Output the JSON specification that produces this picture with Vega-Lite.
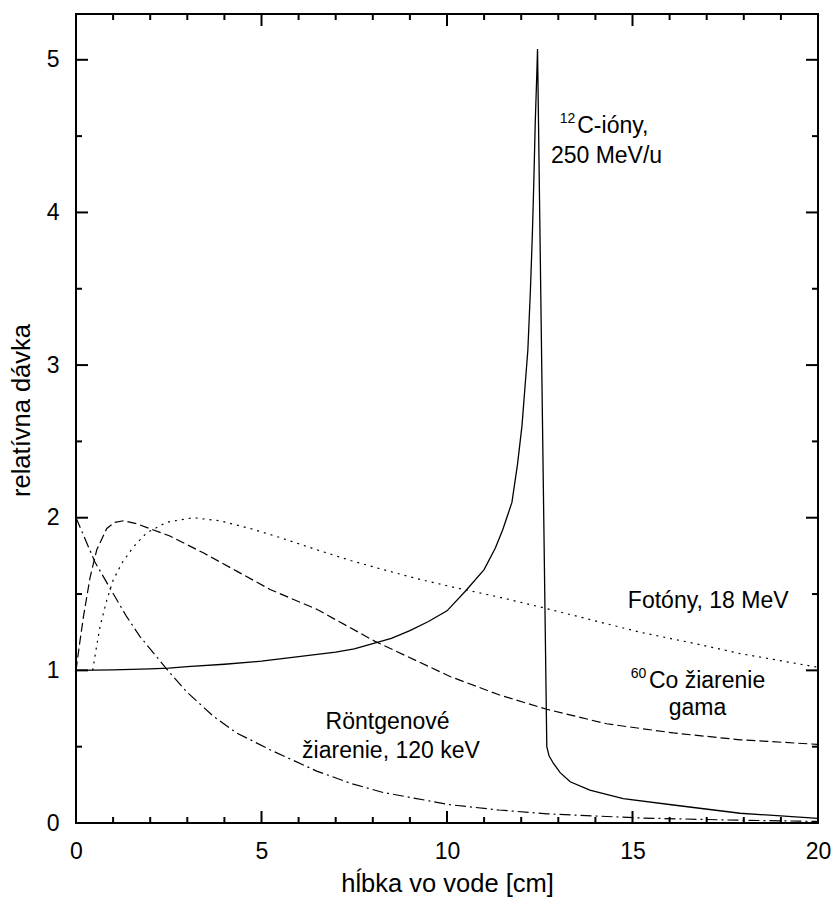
{
  "$schema": "https://vega.github.io/schema/vega-lite/v6.json",
  "width": 742,
  "height": 809,
  "autosize": {"type": "none"},
  "padding": {"left": 76, "top": 14, "right": 15, "bottom": 81},
  "background": "white",
  "config": {
    "view": {"stroke": "black", "strokeWidth": 2},
    "font": "Liberation Sans",
    "axis": {"grid": false, "domain": false, "labelFlush": false, "labelColor": "black", "labelFont": "Liberation Sans", "labelFontSize": 23, "titleFont": "Liberation Sans", "titleFontSize": 25.5, "titleFontWeight": "normal", "titleColor": "black"}
  },
  "datasets": {
    "curves": [
      {"s": "C", "x": 0, "y": 1.0}, {"s": "C", "x": 1, "y": 1.003}, {"s": "C", "x": 2, "y": 1.01}, {"s": "C", "x": 2.5, "y": 1.015}, {"s": "C", "x": 3, "y": 1.025}, {"s": "C", "x": 4, "y": 1.04}, {"s": "C", "x": 5, "y": 1.06}, {"s": "C", "x": 6, "y": 1.09}, {"s": "C", "x": 7, "y": 1.12}, {"s": "C", "x": 7.5, "y": 1.14}, {"s": "C", "x": 8, "y": 1.175}, {"s": "C", "x": 8.5, "y": 1.21}, {"s": "C", "x": 9, "y": 1.26}, {"s": "C", "x": 9.5, "y": 1.32}, {"s": "C", "x": 10, "y": 1.39}, {"s": "C", "x": 10.5, "y": 1.52}, {"s": "C", "x": 11, "y": 1.66}, {"s": "C", "x": 11.3, "y": 1.8}, {"s": "C", "x": 11.5, "y": 1.92}, {"s": "C", "x": 11.75, "y": 2.1}, {"s": "C", "x": 11.9, "y": 2.35}, {"s": "C", "x": 12.02, "y": 2.6}, {"s": "C", "x": 12.1, "y": 2.85}, {"s": "C", "x": 12.18, "y": 3.1}, {"s": "C", "x": 12.25, "y": 3.5}, {"s": "C", "x": 12.3, "y": 3.85}, {"s": "C", "x": 12.34, "y": 4.2}, {"s": "C", "x": 12.38, "y": 4.6}, {"s": "C", "x": 12.42, "y": 4.9}, {"s": "C", "x": 12.44, "y": 5.07}, {"s": "C", "x": 12.69, "y": 0.5}, {"s": "C", "x": 12.75, "y": 0.44}, {"s": "C", "x": 12.87, "y": 0.39}, {"s": "C", "x": 13.05, "y": 0.33}, {"s": "C", "x": 13.32, "y": 0.27}, {"s": "C", "x": 13.85, "y": 0.215}, {"s": "C", "x": 14.75, "y": 0.16}, {"s": "C", "x": 16.1, "y": 0.118}, {"s": "C", "x": 17.9, "y": 0.064}, {"s": "C", "x": 20, "y": 0.03},
      {"s": "P", "x": 0.45, "y": 1.0}, {"s": "P", "x": 0.55, "y": 1.15}, {"s": "P", "x": 0.65, "y": 1.29}, {"s": "P", "x": 0.83, "y": 1.46}, {"s": "P", "x": 1.0, "y": 1.59}, {"s": "P", "x": 1.23, "y": 1.7}, {"s": "P", "x": 1.55, "y": 1.81}, {"s": "P", "x": 1.9, "y": 1.9}, {"s": "P", "x": 2.44, "y": 1.97}, {"s": "P", "x": 3.16, "y": 2.0}, {"s": "P", "x": 3.88, "y": 1.98}, {"s": "P", "x": 4.69, "y": 1.93}, {"s": "P", "x": 5.5, "y": 1.87}, {"s": "P", "x": 6.49, "y": 1.79}, {"s": "P", "x": 7.4, "y": 1.72}, {"s": "P", "x": 8.28, "y": 1.66}, {"s": "P", "x": 9.2, "y": 1.6}, {"s": "P", "x": 10.08, "y": 1.55}, {"s": "P", "x": 11.4, "y": 1.48}, {"s": "P", "x": 12.6, "y": 1.41}, {"s": "P", "x": 13.9, "y": 1.33}, {"s": "P", "x": 15.2, "y": 1.25}, {"s": "P", "x": 16.6, "y": 1.18}, {"s": "P", "x": 17.9, "y": 1.11}, {"s": "P", "x": 20, "y": 1.02},
      {"s": "G", "x": 0, "y": 1.0}, {"s": "G", "x": 0.1, "y": 1.18}, {"s": "G", "x": 0.2, "y": 1.35}, {"s": "G", "x": 0.38, "y": 1.61}, {"s": "G", "x": 0.56, "y": 1.79}, {"s": "G", "x": 0.83, "y": 1.93}, {"s": "G", "x": 1.05, "y": 1.97}, {"s": "G", "x": 1.28, "y": 1.98}, {"s": "G", "x": 1.64, "y": 1.96}, {"s": "G", "x": 2.53, "y": 1.88}, {"s": "G", "x": 3.43, "y": 1.77}, {"s": "G", "x": 4.33, "y": 1.65}, {"s": "G", "x": 5.23, "y": 1.53}, {"s": "G", "x": 6.49, "y": 1.4}, {"s": "G", "x": 8.06, "y": 1.19}, {"s": "G", "x": 10.08, "y": 0.96}, {"s": "G", "x": 11.4, "y": 0.84}, {"s": "G", "x": 12.69, "y": 0.745}, {"s": "G", "x": 14.3, "y": 0.65}, {"s": "G", "x": 16.1, "y": 0.59}, {"s": "G", "x": 17.9, "y": 0.545}, {"s": "G", "x": 20, "y": 0.515},
      {"s": "X", "x": 0, "y": 2.0}, {"s": "X", "x": 0.51, "y": 1.71}, {"s": "X", "x": 0.96, "y": 1.52}, {"s": "X", "x": 1.37, "y": 1.35}, {"s": "X", "x": 1.73, "y": 1.22}, {"s": "X", "x": 2.44, "y": 1.01}, {"s": "X", "x": 2.98, "y": 0.86}, {"s": "X", "x": 3.7, "y": 0.7}, {"s": "X", "x": 4.33, "y": 0.59}, {"s": "X", "x": 5.23, "y": 0.48}, {"s": "X", "x": 6.49, "y": 0.34}, {"s": "X", "x": 7.4, "y": 0.26}, {"s": "X", "x": 8.28, "y": 0.2}, {"s": "X", "x": 10.08, "y": 0.12}, {"s": "X", "x": 11.4, "y": 0.085}, {"s": "X", "x": 12.69, "y": 0.06}, {"s": "X", "x": 15.2, "y": 0.033}, {"s": "X", "x": 17.5, "y": 0.02}, {"s": "X", "x": 20, "y": 0.01}
    ],
    "labels": [
      {"t": "C-ióny,", "x": 14.47, "y": 4.52},
      {"t": "250 MeV/u", "x": 14.3, "y": 4.325},
      {"t": "Fotóny, 18 MeV", "x": 17.04, "y": 1.409},
      {"t": "Co žiarenie", "x": 17.01, "y": 0.885},
      {"t": "gama", "x": 16.75, "y": 0.708},
      {"t": "Röntgenové", "x": 8.4, "y": 0.616},
      {"t": "žiarenie, 120 keV", "x": 8.49, "y": 0.426}
    ],
    "sups": [
      {"t": "12", "x": 13.25, "y": 4.587},
      {"t": "60", "x": 15.16, "y": 0.95}
    ],
    "xmaj": [{"v": 0}, {"v": 5}, {"v": 10}, {"v": 15}, {"v": 20}],
    "xmin": [{"v": 1}, {"v": 2}, {"v": 3}, {"v": 4}, {"v": 6}, {"v": 7}, {"v": 8}, {"v": 9}, {"v": 11}, {"v": 12}, {"v": 13}, {"v": 14}, {"v": 16}, {"v": 17}, {"v": 18}, {"v": 19}],
    "ymaj": [{"v": 0}, {"v": 1}, {"v": 2}, {"v": 3}, {"v": 4}, {"v": 5}],
    "ymin": [{"v": 0.5}, {"v": 1.5}, {"v": 2.5}, {"v": 3.5}, {"v": 4.5}]
  },
  "layer": [
    {
      "data": {"name": "curves"},
      "transform": [{"filter": "datum.s === 'C'"}],
      "mark": {"type": "line", "color": "black", "strokeWidth": 1.3},
      "encoding": {
        "x": {"field": "x", "type": "quantitative", "scale": {"domain": [0, 20], "nice": false, "zero": false},
              "axis": {"orient": "bottom", "values": [0, 5, 10, 15, 20], "ticks": false, "labelPadding": 17, "title": "hĺbka vo vode [cm]", "titlePadding": 8}},
        "y": {"field": "y", "type": "quantitative", "scale": {"domain": [0, 5.3], "nice": false, "zero": false},
              "axis": {"orient": "left", "values": [0, 1, 2, 3, 4, 5], "ticks": false, "labelPadding": 17, "title": "relatívna dávka", "titlePadding": 12, "titleY": 396}},
        "order": {"field": "x"}
      }
    },
    {
      "data": {"name": "curves"},
      "transform": [{"filter": "datum.s === 'G'"}],
      "mark": {"type": "line", "color": "black", "strokeWidth": 1.2, "strokeDash": [9, 4]},
      "encoding": {
        "x": {"field": "x", "type": "quantitative", "axis": null},
        "y": {"field": "y", "type": "quantitative", "axis": null},
        "order": {"field": "x"}
      }
    },
    {
      "data": {"name": "curves"},
      "transform": [{"filter": "datum.s === 'P'"}],
      "mark": {"type": "line", "color": "black", "strokeWidth": 1.2, "strokeDash": [2, 5]},
      "encoding": {
        "x": {"field": "x", "type": "quantitative", "axis": null},
        "y": {"field": "y", "type": "quantitative", "axis": null},
        "order": {"field": "x"}
      }
    },
    {
      "data": {"name": "curves"},
      "transform": [{"filter": "datum.s === 'X'"}],
      "mark": {"type": "line", "color": "black", "strokeWidth": 1.2, "strokeDash": [11, 4, 2, 4]},
      "encoding": {
        "x": {"field": "x", "type": "quantitative", "axis": null},
        "y": {"field": "y", "type": "quantitative", "axis": null},
        "order": {"field": "x"}
      }
    },
    {
      "data": {"name": "xmaj"},
      "mark": {"type": "rule", "color": "black", "strokeWidth": 2},
      "encoding": {"x": {"field": "v", "type": "quantitative", "axis": null}, "y": {"datum": 0, "type": "quantitative", "axis": null}, "y2": {"datum": 0.0786}}
    },
    {
      "data": {"name": "xmaj"},
      "mark": {"type": "rule", "color": "black", "strokeWidth": 2},
      "encoding": {"x": {"field": "v", "type": "quantitative", "axis": null}, "y": {"datum": 5.3, "type": "quantitative", "axis": null}, "y2": {"datum": 5.2214}}
    },
    {
      "data": {"name": "xmin"},
      "mark": {"type": "rule", "color": "black", "strokeWidth": 2},
      "encoding": {"x": {"field": "v", "type": "quantitative", "axis": null}, "y": {"datum": 0, "type": "quantitative", "axis": null}, "y2": {"datum": 0.0393}}
    },
    {
      "data": {"name": "xmin"},
      "mark": {"type": "rule", "color": "black", "strokeWidth": 2},
      "encoding": {"x": {"field": "v", "type": "quantitative", "axis": null}, "y": {"datum": 5.3, "type": "quantitative", "axis": null}, "y2": {"datum": 5.2607}}
    },
    {
      "data": {"name": "ymaj"},
      "mark": {"type": "rule", "color": "black", "strokeWidth": 2},
      "encoding": {"y": {"field": "v", "type": "quantitative", "axis": null}, "x": {"datum": 0, "type": "quantitative", "axis": null}, "x2": {"datum": 0.3235}}
    },
    {
      "data": {"name": "ymaj"},
      "mark": {"type": "rule", "color": "black", "strokeWidth": 2},
      "encoding": {"y": {"field": "v", "type": "quantitative", "axis": null}, "x": {"datum": 20, "type": "quantitative", "axis": null}, "x2": {"datum": 19.6765}}
    },
    {
      "data": {"name": "ymin"},
      "mark": {"type": "rule", "color": "black", "strokeWidth": 2},
      "encoding": {"y": {"field": "v", "type": "quantitative", "axis": null}, "x": {"datum": 0, "type": "quantitative", "axis": null}, "x2": {"datum": 0.1618}}
    },
    {
      "data": {"name": "ymin"},
      "mark": {"type": "rule", "color": "black", "strokeWidth": 2},
      "encoding": {"y": {"field": "v", "type": "quantitative", "axis": null}, "x": {"datum": 20, "type": "quantitative", "axis": null}, "x2": {"datum": 19.8382}}
    },
    {
      "data": {"name": "labels"},
      "mark": {"type": "text", "font": "Liberation Sans", "fontSize": 23, "align": "center", "baseline": "alphabetic", "color": "black"},
      "encoding": {
        "x": {"field": "x", "type": "quantitative", "axis": null},
        "y": {"field": "y", "type": "quantitative", "axis": null},
        "text": {"field": "t"}
      }
    },
    {
      "data": {"name": "sups"},
      "mark": {"type": "text", "font": "Liberation Sans", "fontSize": 14, "align": "center", "baseline": "alphabetic", "color": "black"},
      "encoding": {
        "x": {"field": "x", "type": "quantitative", "axis": null},
        "y": {"field": "y", "type": "quantitative", "axis": null},
        "text": {"field": "t"}
      }
    }
  ],
  "resolve": {"axis": {"x": "independent", "y": "independent"}}
}
